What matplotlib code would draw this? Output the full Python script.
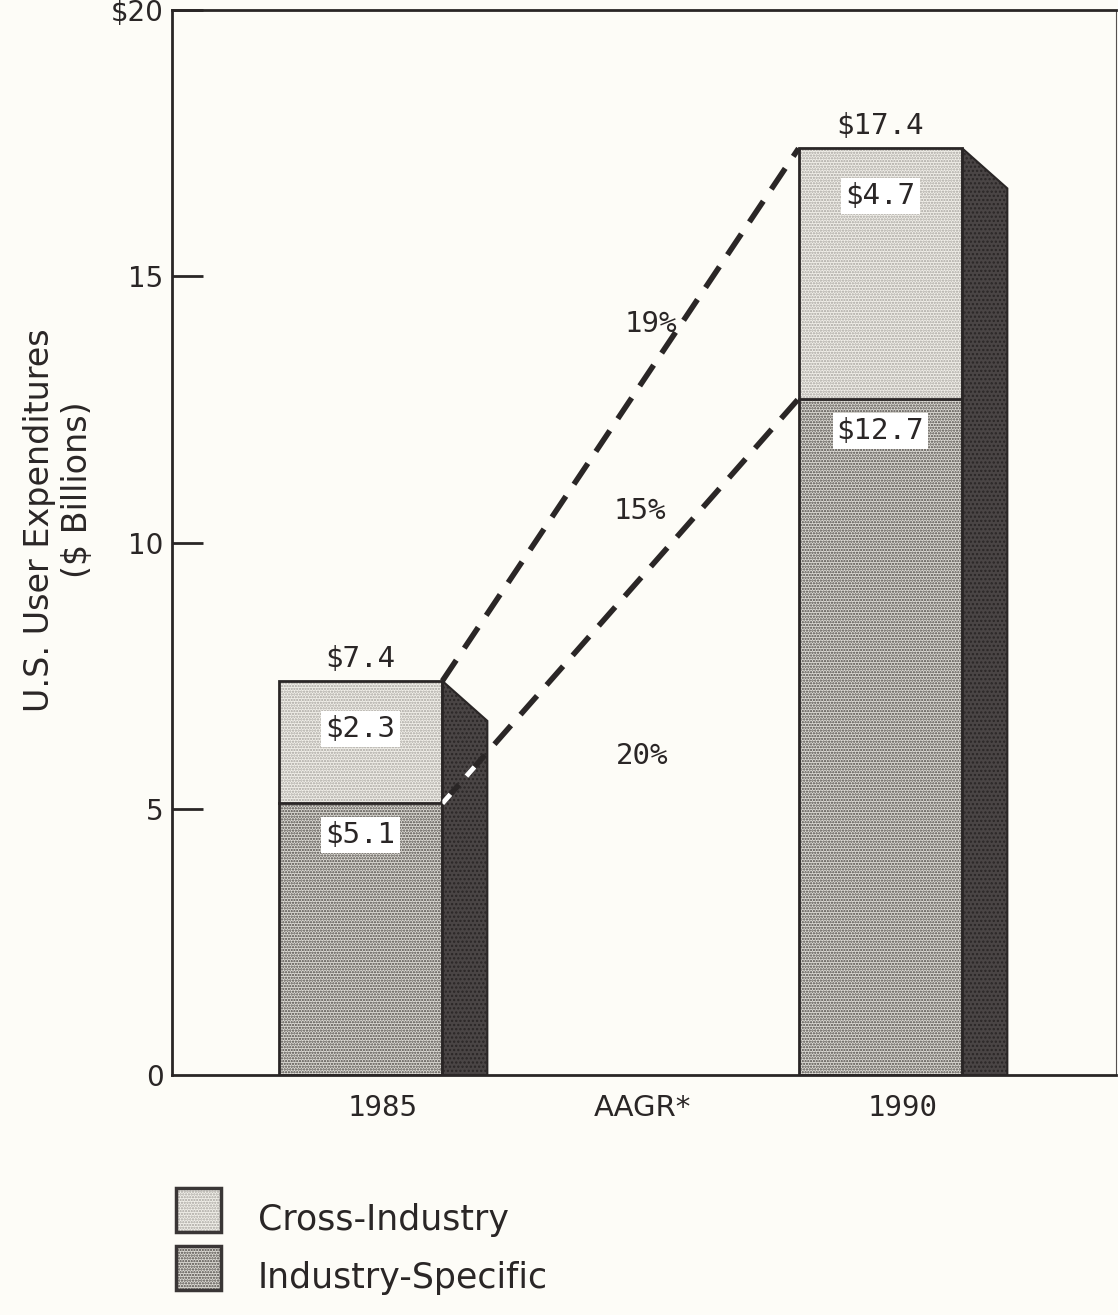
import matplotlib.pyplot as plt
from matplotlib.patches import Rectangle, Polygon
import matplotlib.transforms as mtransforms

# data ($ billions)
years = ['1985', '1990']
cross_industry = [2.3, 4.7]
industry_specific = [5.1, 12.7]
totals = [7.4, 17.4]
growth_labels = ['19%', '15%', '20%']
x_labels = ['1985', 'AAGR*', '1990']
y_ticks = [0, 5, 10, 15, 20]
y_tick_labels = ['0', '5', '10', '15', '$20']

bg = '#fdfcf7'
ink = '#2a2626'
mono = 'DejaVu Sans Mono'
sans = 'DejaVu Sans'
plt.rcParams['hatch.linewidth'] = 1.1

fig = plt.figure(figsize=(11.18, 13.15), dpi=100, facecolor=bg)
ax = fig.add_axes([0.1538, 0.1825, 0.8442, 0.8099], facecolor=bg)

bar_pos = [0, 2]
off = -0.4      # left edge of front face relative to slot
width = 0.63    # front face width
depth = 0.173   # 3d side depth
drop = 0.75     # slant of the side top

light = ('#f2f0ea', '#a5a29d')
dark = ('#dedcd6', '#4a4642')

for i, pos in enumerate(bar_pos):
    left = pos + off
    right = left + width
    lo = industry_specific[i]
    top = totals[i]
    # industry-specific (darker dot screen)
    ax.add_patch(Rectangle((left, 0), width, lo, facecolor=dark[0],
                           edgecolor=dark[1], hatch='......', lw=0, zorder=2))
    # cross-industry (light dot screen)
    ax.add_patch(Rectangle((left, lo), width, top - lo,
                           facecolor=light[0], edgecolor=light[1], hatch='......',
                           lw=0, zorder=2))
    ax.add_patch(Rectangle((left, 0), width, top, fill=False, edgecolor=ink,
                           lw=2, zorder=3))
    ax.plot([left, right], [lo, lo], color=ink, lw=2, zorder=3)
    # dark side face
    side = Polygon([(right, 0), (right, top), (right + depth, top - drop),
                    (right + depth, 0)], closed=True, facecolor='#4a4545',
                   edgecolor=ink, lw=1.5, hatch='....', zorder=2)
    ax.add_patch(side)

    # value labels
    cx = left + width / 2
    ax.text(cx, top + 0.15, '$' + f'{totals[i]}', ha='center', va='bottom',
            fontsize=21, family=mono, color=ink, zorder=5)
    ax.text(cx, top - 0.9, '$' + f'{cross_industry[i]}', ha='center', va='center',
            fontsize=21, family=mono, color=ink, zorder=5,
            bbox=dict(facecolor='white', edgecolor='none', pad=3))
    ax.text(cx, lo - 0.6, '$' + f'{industry_specific[i]}', ha='center', va='center',
            fontsize=21, family=mono, color=ink, zorder=5,
            bbox=dict(facecolor='white', edgecolor='none', pad=3))

# dashed growth lines between the bars
x0 = bar_pos[0] + off + width
x1 = bar_pos[1] + off
ax.plot([x0, x1], [totals[0], totals[1]], color=ink, lw=4,
        dashes=(4.5, 2.6), zorder=4)
ax.plot([x0, x1], [industry_specific[0], industry_specific[1]],
        color=ink, lw=4, dashes=(4.5, 2.6), zorder=4)
# where the lower line crosses the dark side it shows up white
clip = Polygon([(x0, 0), (x0, totals[0]), (x0 + depth, totals[0] - drop),
                (x0 + depth, 0)], closed=True, transform=ax.transData)
wl, = ax.plot([x0, x1], [industry_specific[0], industry_specific[1]],
              color='white', lw=3.5, dashes=(2.5, 5.0), zorder=4)
wl.set_clip_path(clip)

growth_x = [1.03, 0.99, 1.0]
growth_y = [14.1, 10.6, 6.0]
for lab, gx, gy in zip(growth_labels, growth_x, growth_y):
    ax.text(gx, gy, lab, ha='center', va='center', fontsize=21, family=mono,
            color=ink)

ax.set_xlim(-0.81, 2.82)
ax.set_ylim(0, 20)
ax.set_yticks(y_ticks)
ax.set_yticklabels(y_tick_labels, fontsize=20, family=sans, color=ink)
ax.set_xticks([])
ax.tick_params(axis='y', direction='in', length=22, width=2, pad=6, color=ink)
ax.yaxis.get_majorticklines()[0].set_visible(False)

# category labels under the axis
trans = mtransforms.blended_transform_factory(ax.transData, ax.transAxes)
for k, (lab, fam) in enumerate(zip(x_labels, [mono, sans, mono])):
    ax.text(k, -0.031, lab, transform=trans, ha='center', va='center',
            fontsize=21, family=fam, color=ink)

for s in ['left', 'bottom', 'top']:
    ax.spines[s].set_linewidth(2)
    ax.spines[s].set_color(ink)
ax.spines['right'].set_linewidth(0.8)
ax.spines['right'].set_color('#555050')

# y axis title, two lines offset as in the original
fig.text(40 / 1118, 1 - 520 / 1315, 'U.S. User Expenditures', rotation=90,
         ha='center', va='center', fontsize=24, family=sans, color=ink)
fig.text(78 / 1118, 1 - 490 / 1315, '($ Billions)', rotation=90,
         ha='center', va='center', fontsize=24, family=sans, color=ink)

# legend drawn by hand below the plot
leg = fig.add_axes([0, 0, 1, 0.12], facecolor='none')
leg.set_xlim(0, 1118)
leg.set_ylim(0, 157.8)
leg.axis('off')
legend_items = ['Cross-Industry', 'Industry-Specific']
legend_faces = [light, dark]
for k, (name, (fc, hc)) in enumerate(zip(legend_items, legend_faces)):
    yb = 83 - k * 58
    leg.add_patch(Rectangle((176, yb), 45, 44, facecolor=fc, edgecolor=hc,
                            hatch='......', lw=0))
    leg.add_patch(Rectangle((176, yb), 45, 44, fill=False, edgecolor='#3a3636', lw=2.5))
    leg.text(258, yb + 12, name, fontsize=25, family=sans, va='center',
             color=ink)

fig.savefig('out.png', dpi=100, facecolor=bg)
